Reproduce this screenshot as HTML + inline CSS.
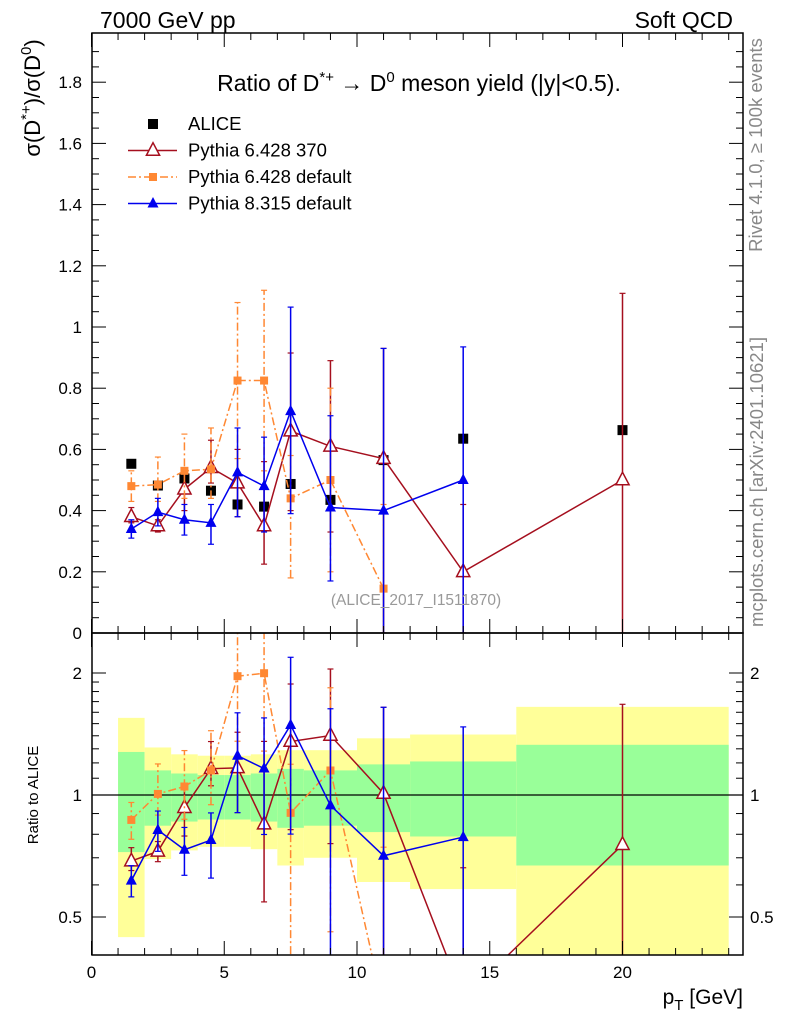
<!DOCTYPE html>
<html><head><meta charset="utf-8"><style>
html,body{margin:0;padding:0;background:#fff;overflow:hidden;width:786px;height:1024px;}
svg{display:block;font-family:"Liberation Sans",sans-serif;}
</style></head><body>
<svg id="c" width="786" height="1024" xmlns="http://www.w3.org/2000/svg" overflow="hidden">
<defs>
<clipPath id="cm"><rect x="92" y="33" width="651" height="600"/></clipPath>
<clipPath id="cr"><rect x="92" y="633" width="651" height="322"/></clipPath>
</defs>
<g id="bands" clip-path="url(#cr)"></g>
<g id="marks"></g>
<rect x="92" y="33" width="651" height="600" fill="none" stroke="#000" stroke-width="1.5"/>
<rect x="92" y="633" width="651" height="322" fill="none" stroke="#000" stroke-width="1.5"/>
<g id="axes"></g>
<text x="100" y="28" font-size="23">7000 GeV pp</text>
<text x="733" y="28" font-size="23" text-anchor="end">Soft QCD</text>
<text x="419" y="91" font-size="23" text-anchor="middle">Ratio of D<tspan dy="-9" font-size="15">*+</tspan><tspan dy="9"> → D</tspan><tspan dy="-9" font-size="15">0</tspan><tspan dy="9"> meson yield (|y|&lt;0.5).</tspan></text>
<text transform="translate(40,98) rotate(-90)" font-size="22" text-anchor="middle">σ(D<tspan dy="-9" font-size="15">*+</tspan><tspan dy="9">)/σ(D</tspan><tspan dy="-9" font-size="15">0</tspan><tspan dy="9">)</tspan></text>
<text transform="translate(38,795) rotate(-90)" font-size="15" text-anchor="middle">Ratio to ALICE</text>
<text x="743" y="1004" font-size="21" text-anchor="end">p<tspan dy="6" font-size="15">T</tspan><tspan dy="-6"> [GeV]</tspan></text>
<text transform="translate(762,145) rotate(-90)" font-size="18.5" fill="#888" text-anchor="middle">Rivet 4.1.0, ≥ 100k events</text>
<text transform="translate(763,482) rotate(-90)" font-size="18.5" fill="#888" text-anchor="middle">mcplots.cern.ch [arXiv:2401.10621]</text>
<text x="416" y="605" font-size="15.5" fill="#999" text-anchor="middle">(ALICE_2017_I1511870)</text>
<g id="legend"></g>
</svg>
<script>
const xs=[1.5,2.5,3.5,4.5,5.5,6.5,7.5,9,11,14,20];
const binLo=[1,2,3,4,5,6,7,8,10,12,16];
const binHi=[2,3,4,5,6,7,8,10,12,16,24];
const alice=[0.553,0.482,0.505,0.465,0.42,0.413,0.487,0.435,0.565,0.635,0.663];
const p6a=[0.38,0.35,0.47,0.54,0.49,0.35,0.66,0.61,0.57,0.20,0.50];
const p6aLo=[0.36,0.33,0.40,0.49,0.38,0.225,0.40,0.33,0.0,0.0,0.0];
const p6aHi=[0.41,0.37,0.52,0.63,0.60,0.56,0.915,0.89,0.93,0.42,1.11];
const p6d=[0.48,0.485,0.53,0.535,0.825,0.825,0.44,0.50,0.145];
const p6dLo=[0.43,0.43,0.44,0.44,0.57,0.53,0.18,0.20,0.0];
const p6dHi=[0.53,0.575,0.65,0.67,1.08,1.12,0.58,0.80,0.42];
const p8=[0.34,0.395,0.37,0.36,0.525,0.48,0.725,0.41,0.40,0.50];
const p8Lo=[0.31,0.35,0.32,0.29,0.38,0.33,0.39,0.17,0.0,0.0];
const p8Hi=[0.37,0.44,0.42,0.42,0.67,0.64,1.065,0.71,0.93,0.935];
const yelLo=[0.446,0.695,0.73,0.745,0.745,0.735,0.67,0.70,0.61,0.586,0.3];
const yelHi=[1.55,1.31,1.26,1.25,1.25,1.26,1.29,1.29,1.38,1.41,1.65];
const grnLo=[0.723,0.84,0.86,0.87,0.87,0.86,0.83,0.84,0.81,0.79,0.67];
const grnHi=[1.277,1.15,1.13,1.12,1.12,1.13,1.16,1.15,1.19,1.21,1.33];
const mainTicks=["0","0.2","0.4","0.6","0.8","1","1.2","1.4","1.6","1.8"];
const xTicks=["0","5","10","15","20"];
const ratioTicks=["0.5","1","2"];

const NS="http://www.w3.org/2000/svg";
const X=v=>91.5+v*26.55;
const Y=v=>633-v*306;
const R=v=>795-122*Math.log2(v);
function mk(p,t,a){const e=document.createElementNS(NS,t);for(const k in a)e.setAttribute(k,a[k]);p.appendChild(e);return e;}
const bands=document.getElementById('bands'),marks=document.getElementById('marks'),axes=document.getElementById('axes');
const Rc=v=>R(Math.min(Math.max(v,0.3),3.2));
for(let i=0;i<binLo.length;i++){
 let r=mk(bands,'rect',{x:X(binLo[i]),y:Rc(yelHi[i]),width:X(binHi[i])-X(binLo[i]),height:Rc(yelLo[i])-Rc(yelHi[i]),fill:'#ffff99'});
 
 r=mk(bands,'rect',{x:X(binLo[i]),y:Rc(grnHi[i]),width:X(binHi[i])-X(binLo[i]),height:Rc(grnLo[i])-Rc(grnHi[i]),fill:'#99ff99'});
 
}
mk(bands,'line',{x1:92,x2:743,y1:R(1),y2:R(1),stroke:'#000','stroke-width':1.2});
function marker(g,type,x,y,col,s){
 let e;
 if(type==='sq')e=mk(g,'rect',{x:x-s,y:y-s,width:2*s,height:2*s,fill:col});
 else if(type==='tri')e=mk(g,'polygon',{points:`${x},${y-s*1.3} ${x-s*1.1},${y+s*0.8} ${x+s*1.1},${y+s*0.8}`,fill:col});
 else e=mk(g,'polygon',{points:`${x},${y-s*1.3} ${x-s*1.1},${y+s*0.8} ${x+s*1.1},${y+s*0.8}`,fill:'#fff',stroke:col,'stroke-width':1.5});
 return e;
}
function series(name,vals,lo,hi,col,dash,type,s,ratio,line){
 const g=mk(marks,'g',{'clip-path':ratio?'url(#cr)':'url(#cm)'});
 
 
 const Yf=ratio?Rc:(v=>Y(Math.min(Math.max(v,-0.05),2)));
 const tv=(v,i)=>ratio?v/alice[i]:v;
 if(lo){for(let i=0;i<vals.length;i++){const x=X(xs[i]);
  const a=Yf(tv(lo[i],i)),b=Yf(tv(hi[i],i));
  mk(g,'line',{x1:x,x2:x,y1:a,y2:b,stroke:col,'stroke-width':1.5,'stroke-dasharray':dash||''});
  mk(g,'line',{x1:x-3,x2:x+3,y1:a,y2:a,stroke:col,'stroke-width':1.2});
  mk(g,'line',{x1:x-3,x2:x+3,y1:b,y2:b,stroke:col,'stroke-width':1.2});}}
 if(line){mk(g,'polyline',{points:vals.map((v,i)=>X(xs[i])+','+Yf(tv(v,i))).join(' '),fill:'none',stroke:col,'stroke-width':1.5,'stroke-dasharray':dash||''});}
 for(let i=0;i<vals.length;i++){const m=marker(g,type,X(xs[i]),Yf(tv(vals[i],i)),col,s);
  }
}
series('alice',alice,null,null,'#000','', 'sq',5,false,false);
series('pythia6-370',p6a,p6aLo,p6aHi,'#a50f1e','', 'otri',6,false,true);
series('pythia6-default',p6d,p6dLo,p6dHi,'#ff8833','8,3,2,3','sq',4,false,true);
series('pythia8-default',p8,p8Lo,p8Hi,'#0000ee','', 'tri',5,false,true);
series('pythia6-370',p6a,p6aLo,p6aHi,'#a50f1e','', 'otri',6,true,true);
series('pythia6-default',p6d,p6dLo,p6dHi,'#ff8833','8,3,2,3','sq',4,true,true);
series('pythia8-default',p8,p8Lo,p8Hi,'#0000ee','', 'tri',5,true,true);
for(let v=0;v<=1.95;v+=0.05){const y=Y(v);const maj=Math.abs(v/0.2-Math.round(v/0.2))<0.01;const L=maj?14:7;
 mk(axes,'line',{x1:92,x2:92+L,y1:y,y2:y,stroke:'#000'});mk(axes,'line',{x1:743,x2:743-L,y1:y,y2:y,stroke:'#000'});}
mainTicks.forEach(t=>{const e=mk(axes,'text',{x:82,y:Y(parseFloat(t))+6,'font-size':17,'text-anchor':'end'});e.textContent=t;
 });
for(let v=0;v<=24;v++){const x=X(v);const L=v%5===0?14:7;
 [633,955].forEach(b=>mk(axes,'line',{x1:x,x2:x,y1:b,y2:b-L,stroke:'#000'}));
 mk(axes,'line',{x1:x,x2:x,y1:633,y2:633+L,stroke:'#000'});mk(axes,'line',{x1:x,x2:x,y1:33,y2:33+L,stroke:'#000'});}
xTicks.forEach(t=>{const e=mk(axes,'text',{x:X(parseFloat(t)),y:978,'font-size':17,'text-anchor':'middle'});e.textContent=t;
 });
[0.5,0.6,0.7,0.8,0.9,1,1.1,1.2,1.3,1.4,1.5,1.6,1.7,1.8,1.9,2].forEach(v=>{const y=R(v);const maj=[0.5,1,2].includes(v);const L=maj?14:7;
 mk(axes,'line',{x1:92,x2:92+L,y1:y,y2:y,stroke:'#000'});mk(axes,'line',{x1:743,x2:743-L,y1:y,y2:y,stroke:'#000'});});
ratioTicks.forEach(t=>{const y=R(parseFloat(t))+6;
 let e=mk(axes,'text',{x:82,y:y,'font-size':17,'text-anchor':'end'});e.textContent=t;
 
 e=mk(axes,'text',{x:750,y:y,'font-size':17});e.textContent=t;
 });
const lg=document.getElementById('legend');
const items=[['ALICE','#000','','sq',5],['Pythia 6.428 370','#a50f1e','','otri',6],['Pythia 6.428 default','#ff8833','8,3,2,3','sq',4],['Pythia 8.315 default','#0000ee','','tri',5]];
items.forEach((it,i)=>{const y=124+i*26.5;const g=mk(lg,'g',{});
 
 if(i>0)mk(g,'line',{x1:128,x2:177,y1:y,y2:y,stroke:it[1],'stroke-width':1.5,'stroke-dasharray':it[2]});
 marker(g,it[3],153,y,it[1],it[4]);
 const t=mk(g,'text',{x:188,y:y+6,'font-size':18.5});t.textContent=it[0];});
</script>
</body></html>
